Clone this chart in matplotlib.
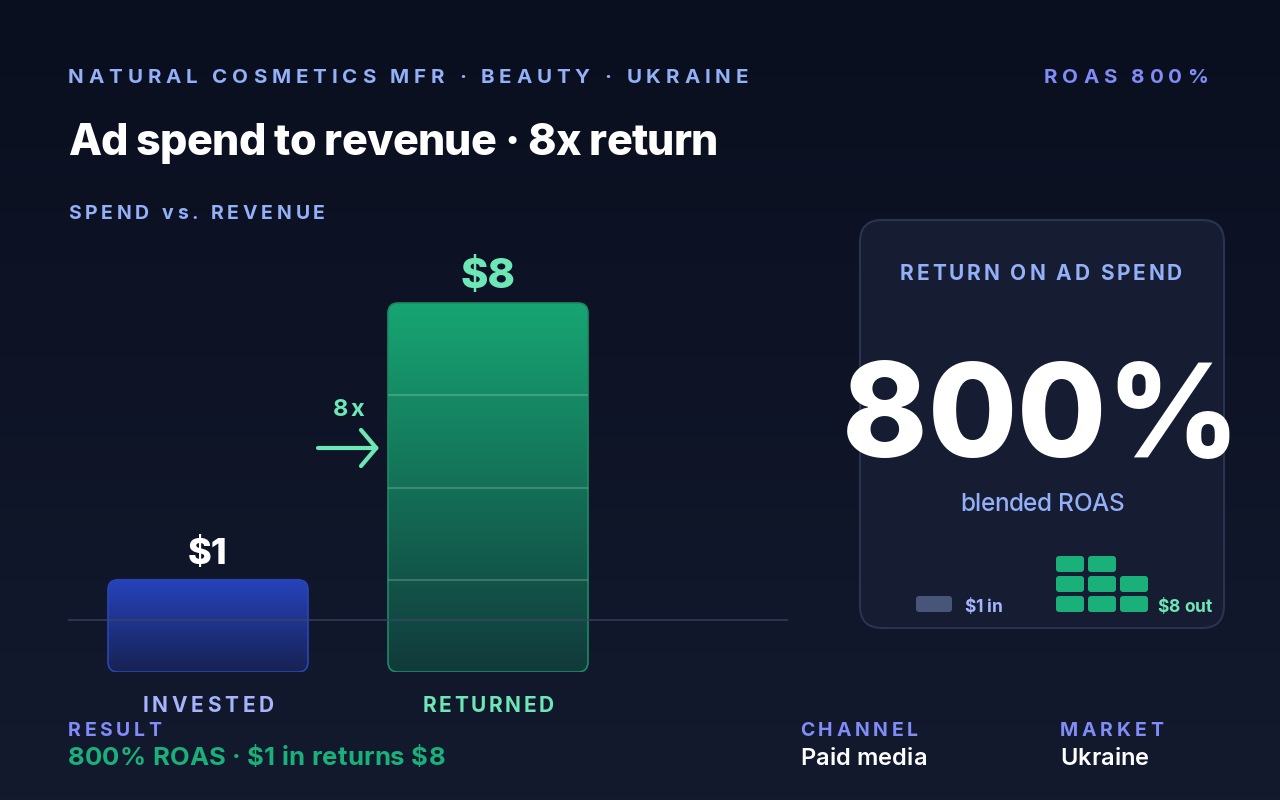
import numpy as np
import matplotlib
matplotlib.use("Agg")
import matplotlib.pyplot as plt
from matplotlib.patches import FancyBboxPatch
from matplotlib.colors import LinearSegmentedColormap

#-----------------------------------------------------------------------------
# data
#-----------------------------------------------------------------------------
categories = ["INVESTED", "RETURNED"]
amounts = [1, 8]                    # dollars
value_labels = ["$1", "$8"]
roas_pct = 800
multiple_label = "8x"
header_left = "NATURAL COSMETICS MFR · BEAUTY · UKRAINE"
header_right = "ROAS 800%"
title = "Ad spend to revenue · 8x return"
section = "SPEND vs. REVENUE"
card_title = "RETURN ON AD SPEND"
card_sub = "blended ROAS"
legend_in = "$1 in"
legend_out = "$8 out"
footer_keys = ["RESULT", "CHANNEL", "MARKET"]
footer_vals = ["800% ROAS · $1 in returns $8", "Paid media", "Ukraine"]

#-----------------------------------------------------------------------------
# style
#-----------------------------------------------------------------------------
plt.rcParams['font.family'] = ['Inter', 'DejaVu Sans']
plt.rcParams['text.parse_math'] = False
BG_TOP = '#0a0f1f'
BG_BOT = '#131a2e'
PERI = '#93b0f8'
INDIGO = '#818cf8'
LAV = '#a5b4fc'
MINT = '#6ee7b7'
GREEN = '#19b07a'
WHITE = '#ffffff'

fig = plt.figure(figsize=(12.8, 8), dpi=100)
ax = fig.add_axes([0, 0, 1, 1])
ax.set_xlim(0, 1280)
ax.set_ylim(800, 0)
ax.axis('off')

# background gradient
grad = np.linspace(0, 1, 256).reshape(-1, 1)
bg_cmap = LinearSegmentedColormap.from_list('bg', [BG_TOP, BG_BOT])
ax.imshow(grad, cmap=bg_cmap, extent=[0, 1280, 800, 0], aspect='auto', zorder=0)

renderer = fig.canvas.get_renderer()


def text_w(s, size, weight):
    t = ax.text(0, 0, s, fontsize=size, fontweight=weight)
    w = t.get_window_extent(renderer).width
    t.remove()
    return w


def spaced(x, y, s, size, color, width=None, weight=700, ha='left'):
    # draws s char by char so the tracking matches a target width (px)
    bar = text_w('|', size, weight)
    offs = [text_w(s[:i] + '|', size, weight) - bar for i in range(len(s))]
    natural = text_w(s, size, weight)
    if width is None:
        width = natural
    sp = (width - natural) / max(len(s) - 1, 1)
    if ha == 'center':
        x0 = x - width / 2
    elif ha == 'right':
        x0 = x - width
    else:
        x0 = x
    for i, c in enumerate(s):
        if c != ' ':
            ax.text(x0 + offs[i] + i * sp, y, c, fontsize=size, fontweight=weight,
                    color=color, va='baseline', ha='left', zorder=10)


# header
spaced(68, 83, header_left, 14.8, PERI, 680)
spaced(1208, 83, header_right, 14.8, INDIGO, 164, ha='right')
spaced(68, 155, title, 31, WHITE, 650, weight=800)
spaced(68, 219, section, 14, PERI, 257)

#-----------------------------------------------------------------------------
# bars (height in segments: 1 + log2 of the amount)
#-----------------------------------------------------------------------------
heights = [1 + np.log2(a) for a in amounts]
unit_px = 92.25
bax = fig.add_axes([68 / 1280, (800 - 672) / 800, 720 / 1280, (672 - 240) / 800])
bax.set_xlim(-0.5, (788 - 208) / 280)
bax.set_ylim(0, (672 - 240) / unit_px)
bax.patch.set_alpha(0)
bax.axis('off')

bar_w = 200 / 280
rx = 10 / 280
ry = 10 / unit_px
fills = [('#2643bc', '#172253'), ('#17a673', '#113a3b')]
edges = ['#2b45b5', '#1d8a63']
for i, h in enumerate(heights):
    x0 = i - bar_w / 2
    patch = FancyBboxPatch((x0, 0), bar_w, h,
                           boxstyle='round,pad=0,rounding_size=%f' % rx,
                           mutation_aspect=ry / rx, facecolor='none',
                           edgecolor=edges[i], lw=1.2, zorder=3)
    bax.add_patch(patch)
    cm = LinearSegmentedColormap.from_list('b%d' % i, [fills[i][1], fills[i][0]])
    im = bax.imshow(np.linspace(0, 1, 256).reshape(-1, 1), cmap=cm, origin='lower',
                    extent=[x0, x0 + bar_w, 0, h], aspect='auto', zorder=2)
    im.set_clip_path(patch)
    # segment dividers
    for k in range(1, int(round(h))):
        bax.plot([x0 + 0.004, x0 + bar_w - 0.004], [k, k], color='white', alpha=0.22,
                 lw=1.2, zorder=4)
    bax.annotate(value_labels[i], xy=(i, h), xytext=(0, 11), textcoords='offset points',
                 ha='center', va='baseline', fontsize=[26, 30][i], fontweight=800,
                 color=[WHITE, MINT][i], zorder=5)

# baseline
bax.axhline((672 - 620) / unit_px, color='#3a4563', alpha=0.8, lw=1.2, zorder=6)

# arrow between bars
to_px = lambda xd, yd: ax.transData.inverted().transform(bax.transData.transform((xd, yd)))
ax_tip = to_px(1 - bar_w / 2, 0)[0] - 9
ax_tail = ax_tip - 61
ax.annotate('', xy=(ax_tip, 448), xytext=(ax_tail, 448),
            arrowprops=dict(arrowstyle='->,head_length=1.1,head_width=1.3', color=MINT,
                            lw=3, capstyle='round', joinstyle='round', mutation_scale=10,
                            shrinkA=0, shrinkB=0), zorder=7)
spaced((ax_tip + ax_tail) / 2, 416, multiple_label, 17, MINT, 32, ha='center')

# category labels
cat_colors = [LAV, MINT]
for i, c in enumerate(categories):
    cx = to_px(i, 0)[0]
    spaced(cx, 712, c, 15, cat_colors[i], 131, ha='center')

#-----------------------------------------------------------------------------
# card
#-----------------------------------------------------------------------------
card = FancyBboxPatch((860, 220), 364, 408, boxstyle='round,pad=0,rounding_size=22',
                      facecolor='#161c31', edgecolor='#2a3350', lw=1.5, zorder=1)
ax.add_patch(card)
spaced(1041, 280, card_title, 15, PERI, 282, ha='center')
spaced(1041, 457, '%d%%' % roas_pct, 93, WHITE, None, weight=800, ha='center')
spaced(1042, 511, card_sub, 17.5, PERI, 164, weight=500, ha='center')

# mini legend: 1 block in, 8 blocks out
ax.add_patch(FancyBboxPatch((916, 596), 36, 16, boxstyle='round,pad=0,rounding_size=3',
                            facecolor='#475578', edgecolor='none', zorder=3))
spaced(964, 612, legend_in, 12.5, LAV, 39)
n_out = amounts[1]
cols = 3
for k in range(n_out):
    col = k % cols
    row = k // cols
    ax.add_patch(FancyBboxPatch((1056 + col * 32, 596 - row * 20), 28, 16,
                                boxstyle='round,pad=0,rounding_size=3',
                                facecolor=GREEN, edgecolor='none', zorder=3))
spaced(1157, 612, legend_out, 12.5, MINT, 55)

#-----------------------------------------------------------------------------
# footer
#-----------------------------------------------------------------------------
key_x = [68, 800, 1060]
key_w = [93, 118, 103]
val_w = [377, 127, 89]
val_size = [18.5, 17, 17]
val_col = [GREEN, WHITE, WHITE]
for i in range(3):
    spaced(key_x[i], 736, footer_keys[i], 14, INDIGO, key_w[i])
    spaced(key_x[i], 765, footer_vals[i], val_size[i], val_col[i], val_w[i],
           weight=700 if i == 0 else 600)

fig.savefig('out.png', dpi=100, facecolor=BG_TOP)
